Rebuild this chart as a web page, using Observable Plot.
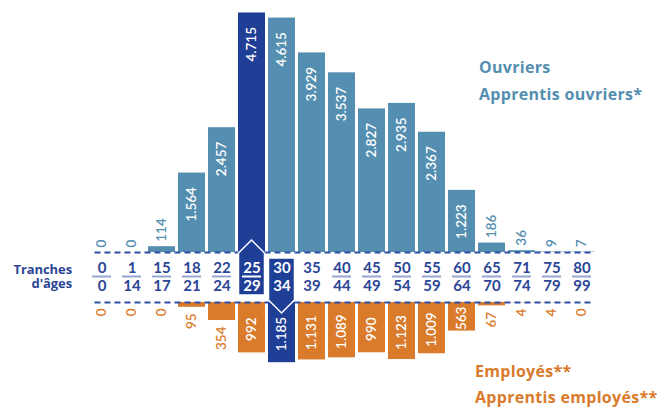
<!DOCTYPE html>
<html>
<head>
<meta charset="utf-8">
<script src="https://cdn.jsdelivr.net/npm/d3@7"></script>
<script src="https://cdn.jsdelivr.net/npm/@observablehq/plot@0.6"></script>
<style>
  html, body { margin: 0; padding: 0; background: #fff; }
  #chart { position: relative; width: 667px; height: 408px; overflow: hidden; font-family: "Open Sans", Lato, sans-serif; }
  #chart svg { position: absolute; left: 0; top: 0; }
  .lbl { position: absolute; font-family: "Open Sans", sans-serif; font-weight: 700; font-size: 16px; line-height: 16px; letter-spacing: 0.3px; white-space: nowrap; }
  .axt { position: absolute; right: 595px; text-align: right; font-family: "Open Sans", sans-serif; font-weight: 700; font-size: 13px; line-height: 14px; color: #2b4596; letter-spacing: -0.1px; white-space: pre-line; }
</style>
</head>
<body>
<div id="chart"></div>
<script>
// ---- data ----
const ageStart = ["0","1","15","18","22","25","30","35","40","45","50","55","60","65","71","75","80"];
const ageEnd   = ["0","14","17","21","24","29","34","39","44","49","54","59","64","70","74","79","99"];
const ouvriers = [0,0,114,1564,2457,4715,4615,3929,3537,2827,2935,2367,1223,186,36,9,7];
const employes = [0,0,0,95,354,992,1185,1131,1089,990,1123,1009,563,67,4,4,0];
const highlightOuvriers = "25";
const highlightEmployes = "30";
const noSeparator = ["30","35"];
const legendOuvriers = ["Ouvriers","Apprentis ouvriers*"];
const legendEmployes = ["Employés**","Apprentis employés**"];
const axisTitle = ["Tranches","d'âges"];

// ---- styles ----
const BLUE = "#548eb0", DARK = "#1f3e96", ORANGE = "#da7b2c", NAVY = "#2b4596", DASH = "#2c4ea6", SEP = "#97a5d3";
const GAP = 984;            // vertical room (in value units) for the age-band row
const W = 667, H = 408;

const rows = ageStart.map((s, i) => ({key: s, start: s, end: ageEnd[i], top: ouvriers[i], bot: employes[i]}));
const fmt = v => d3.format(",")(v).replace(/,/g, ".");
const INSIDE = 400;

function highlightBoxes(index, scales) {
  const x = scales.x, y = scales.y;
  const bw = typeof x.bandwidth === "function" ? x.bandwidth() : scales.scales.x.bandwidth;
  const y0 = y(0), yb = y(-GAP);
  const g = d3.create("svg:g");
  const xa = x(highlightOuvriers) + 0.5, wa = bw - 1;
  g.append("path")
    .attr("d", d3.line()([[xa, y0 + 1], [xa + wa / 2, y0 - 12], [xa + wa, y0 + 1], [xa + wa, yb - 7], [xa, yb - 7]]) + "Z")
    .attr("fill", DARK).attr("stroke", "white").attr("stroke-width", 1.5).attr("stroke-linejoin", "miter");
  const xb = x(highlightEmployes) + 0.5, wb = bw - 1;
  g.append("path")
    .attr("d", d3.line()([[xb, y0 + 6], [xb + wb, y0 + 6], [xb + wb, yb - 2], [xb + wb / 2, yb + 11], [xb, yb - 2]]) + "Z")
    .attr("fill", DARK).attr("stroke", "white").attr("stroke-width", 1.5).attr("stroke-linejoin", "miter");
  return g.node();
}

const isHi = d => d.key === highlightOuvriers || d.key === highlightEmployes;
const textBase = {fontFamily: "Lato, 'Noto Sans', sans-serif", fontWeight: 600, fontSize: 13.5, rotate: -90};

const plot = Plot.plot({
  width: W, height: H,
  marginTop: 0, marginBottom: 0, marginLeft: 87.5, marginRight: 72.5,
  x: {domain: ageStart, paddingInner: 0.11, paddingOuter: 0, axis: null},
  y: {domain: [-(H - 252) / 0.0508, 252 / 0.0508], axis: null},
  style: {background: "white", overflow: "visible"},
  marks: [
    // ouvriers bars (up)
    Plot.barY(rows, {x: "key", y1: 0, y2: "top", fill: BLUE, filter: d => d.key !== highlightOuvriers}),
    Plot.barY(rows, {x: "key", y1: 0, y2: "top", fill: DARK, filter: d => d.key === highlightOuvriers}),
    // employes bars (down)
    Plot.barY(rows, {x: "key", y1: -GAP, y2: d => -GAP - d.bot, fill: ORANGE, filter: d => d.key !== highlightEmployes}),
    Plot.barY(rows, {x: "key", y1: -GAP, y2: d => -GAP - d.bot, fill: DARK, filter: d => d.key === highlightEmployes}),
    // dashed baselines
    Plot.ruleY([0, -GAP], {stroke: DASH, strokeWidth: 2, strokeDasharray: "6,4", insetLeft: 7}),
    // highlight boxes
    highlightBoxes,
    // age labels
    Plot.text(rows, {x: "key", y: 0, dy: 15.5, text: "start", fill: d => isHi(d) ? "white" : NAVY, fontFamily: "Lato, sans-serif", fontWeight: 700, fontSize: 15}),
    Plot.text(rows, {x: "key", y: -GAP, dy: -16, text: "end", fill: d => isHi(d) ? "white" : NAVY, fontFamily: "Lato, sans-serif", fontWeight: 700, fontSize: 15}),
    Plot.tickY(rows, {x: "key", y: 0, dy: 24, stroke: d => d.key === highlightOuvriers ? "white" : SEP, strokeWidth: 2, insetLeft: 4, insetRight: 4,
      filter: d => !noSeparator.includes(d.key)}),
    // ouvriers value labels
    Plot.text(rows, {...textBase, x: "key", y: "top", text: d => fmt(d.top), filter: d => d.top > INSIDE, textAnchor: "end", dy: 14, fill: "white"}),
    Plot.text(rows, {...textBase, x: "key", y: "top", text: d => fmt(d.top), filter: d => d.top <= INSIDE, textAnchor: "start", dy: -5, fill: BLUE}),
    // employes value labels (centred inside the bar, or below it)
    Plot.text(rows, {...textBase, x: "key", y: d => -GAP - d.bot / 2, text: d => fmt(d.bot), filter: d => d.bot > INSIDE, textAnchor: "middle", dy: 1.5, fill: "white"}),
    Plot.text(rows, {...textBase, x: "key", y: d => -GAP - d.bot, text: d => fmt(d.bot), filter: d => d.bot <= INSIDE, textAnchor: "end", dy: 6, fill: ORANGE})
  ]
});

const chart = document.getElementById("chart");
chart.appendChild(plot);

function addLabel(text, left, top, color, cls) {
  const el = document.createElement("div");
  el.className = cls;
  el.textContent = text;
  if (left !== null) el.style.left = left + "px";
  el.style.top = top + "px";
  if (color) el.style.color = color;
  chart.appendChild(el);
}
addLabel(legendOuvriers[0], 479, 59.3, BLUE, "lbl");
addLabel(legendOuvriers[1], 479, 85.8, BLUE, "lbl");
addLabel(legendEmployes[0], 475, 362.5, ORANGE, "lbl");
addLabel(legendEmployes[1], 475, 388.8, ORANGE, "lbl");
addLabel(axisTitle.join("\n"), null, 261.5, null, "axt");
</script>
</body>
</html>
